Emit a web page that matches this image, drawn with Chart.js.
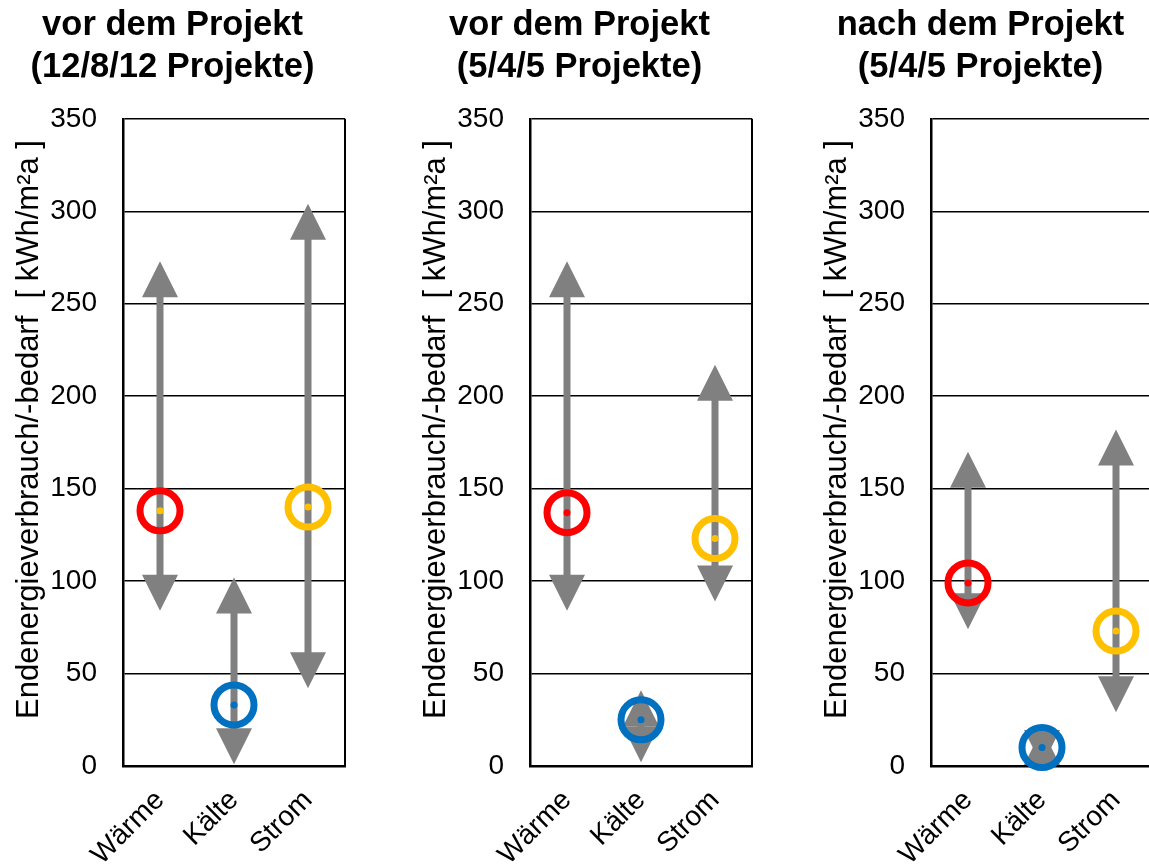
<!DOCTYPE html>
<html>
<head>
<meta charset="utf-8">
<script src="https://cdn.jsdelivr.net/npm/chart.js@4.4.1/dist/chart.umd.min.js"></script>
<style>
  html, body { margin: 0; padding: 0; background: #fff; overflow: hidden; }
  body { width: 1149px; height: 867px; position: relative; }
  .panel { position: absolute; top: 0; width: 350px; height: 867px; }
</style>
</head>
<body>
<div class="panel" style="left:0px"><canvas id="panel1"></canvas></div>
<div class="panel" style="left:407px"><canvas id="panel2"></canvas></div>
<div class="panel" style="left:808px"><canvas id="panel3"></canvas></div>
<script>
// categories and axis
const categories = ["Wärme", "Kälte", "Strom"];
const yTicks = [0, 50, 100, 150, 200, 250, 300, 350];
const yTitle = "   Endenergieverbrauch/-bedarf  [ kWh/m²a ]";

// panel titles
const title1 = ["vor dem Projekt", "(12/8/12 Projekte)"];
const title2 = ["vor dem Projekt", "(5/4/5 Projekte)"];
const title3 = ["nach dem Projekt", "(5/4/5 Projekte)"];

// mean / min / max per category (Wärme, Kälte, Strom)
const mean1 = [138, 33, 140];
const min1 = [84, 1, 42];
const max1 = [273, 102, 304];

const mean2 = [137, 25, 123];
const min2 = [84, 2, 89];
const max2 = [273, 41, 217];

const mean3 = [99, 10, 73];
const min3 = [74, 0, 29];
const max3 = [170, 20, 182];

const ringColors = ["#ff0000", "#0070c0", "#ffc000"];
const dotColors1 = ["#ffc000", "#0070c0", "#ffc000"];
const dotColors2 = ["#ff0000", "#0070c0", "#ffc000"];
const dotColors3 = ["#ff0000", "#0070c0", "#ffc000"];

const FONT = "'Liberation Sans', Arial, sans-serif";

// gray range arrows, drawn from the scales
const rangeArrows = {
  id: "rangeArrows",
  beforeDatasetsDraw(chart, args, opts) {
    const { ctx } = chart;
    const xs = chart.scales.x;
    const ys = chart.scales.y;
    const head = 36;
    const half = 18;
    ctx.save();
    ctx.fillStyle = opts.color;
    opts.lows.forEach((lo, i) => {
      const x = xs.getPixelForValue(i);
      const yTop = ys.getPixelForValue(opts.highs[i]);
      const yBot = ys.getPixelForValue(lo);
      const s0 = yTop + head - 1;
      const s1 = yBot - head + 1;
      if (s1 > s0) ctx.fillRect(x - 3.5, s0, 7, s1 - s0);
      ctx.beginPath();
      ctx.moveTo(x, yTop);
      ctx.lineTo(x + half, yTop + head);
      ctx.lineTo(x - half, yTop + head);
      ctx.closePath();
      ctx.fill();
      ctx.beginPath();
      ctx.moveTo(x, yBot);
      ctx.lineTo(x + half, yBot - head);
      ctx.lineTo(x - half, yBot - head);
      ctx.closePath();
      ctx.fill();
    });
    ctx.restore();
  },
};

// right border of the plot frame
const frameRight = {
  id: "frameRight",
  beforeDatasetsDraw(chart) {
    const { ctx, chartArea } = chart;
    ctx.save();
    ctx.strokeStyle = "#000";
    ctx.lineWidth = 2;
    ctx.beginPath();
    ctx.moveTo(chartArea.right, chartArea.top);
    ctx.lineTo(chartArea.right, chartArea.bottom);
    ctx.stroke();
    ctx.restore();
  },
};

function makePanel(id, titleLines, means, lows, highs, dotColors) {
  new Chart(document.getElementById(id), {
    type: "line",
    data: {
      labels: categories,
      datasets: [
        {
          data: means,
          showLine: false,
          clip: false,
          pointRadius: 3.5,
          pointHoverRadius: 3.5,
          pointBorderWidth: 0,
          pointBackgroundColor: dotColors,
          order: 0,
        },
        {
          data: means,
          showLine: false,
          clip: false,
          pointRadius: 20,
          pointHoverRadius: 20,
          pointBorderWidth: 7,
          pointBorderColor: ringColors,
          pointBackgroundColor: "rgba(0,0,0,0)",
          order: 1,
        },
      ],
    },
    options: {
      responsive: true,
      maintainAspectRatio: false,
      animation: false,
      layout: { autoPadding: false, padding: { left: 0, right: 5, top: 0, bottom: 0 } },
      plugins: {
        legend: { display: false },
        tooltip: { enabled: false },
        title: {
          display: true,
          text: titleLines,
          color: "#000",
          font: { family: FONT, size: 34.5, weight: "bold", lineHeight: 1.2 },
          padding: { top: 5, bottom: 31 },
        },
        rangeArrows: { lows, highs, color: "#808080" },
      },
      scales: {
        x: {
          type: "category",
          offset: true,
          grid: { display: false, drawTicks: false },
          border: { display: true, color: "#000", width: 2.5 },
          ticks: {
            color: "#000",
            font: { family: FONT, size: 28 },
            maxRotation: 45,
            minRotation: 45,
            padding: 18,
          },
          afterFit(scale) {
            scale.height = 101;
            scale.paddingLeft = 0;
            scale.paddingRight = 0;
          },
        },
        y: {
          min: 0,
          max: 350,
          afterBuildTicks(scale) { scale.ticks = yTicks.map((v) => ({ value: v })); },
          grid: { color: "#000", lineWidth: 1.5, drawTicks: false },
          border: { display: true, color: "#000", width: 2.5 },
          ticks: {
            color: "#000",
            font: { family: FONT, size: 28 },
            padding: 26,
          },
          title: {
            display: true,
            text: yTitle,
            color: "#000",
            font: { family: FONT, size: 31 },
            padding: { top: 11, bottom: 0 },
          },
          afterFit(scale) { scale.width = 123; },
        },
      },
    },
    plugins: [rangeArrows, frameRight],
  });
}

makePanel("panel1", title1, mean1, min1, max1, dotColors1);
makePanel("panel2", title2, mean2, min2, max2, dotColors2);
makePanel("panel3", title3, mean3, min3, max3, dotColors3);
</script>
</body>
</html>
